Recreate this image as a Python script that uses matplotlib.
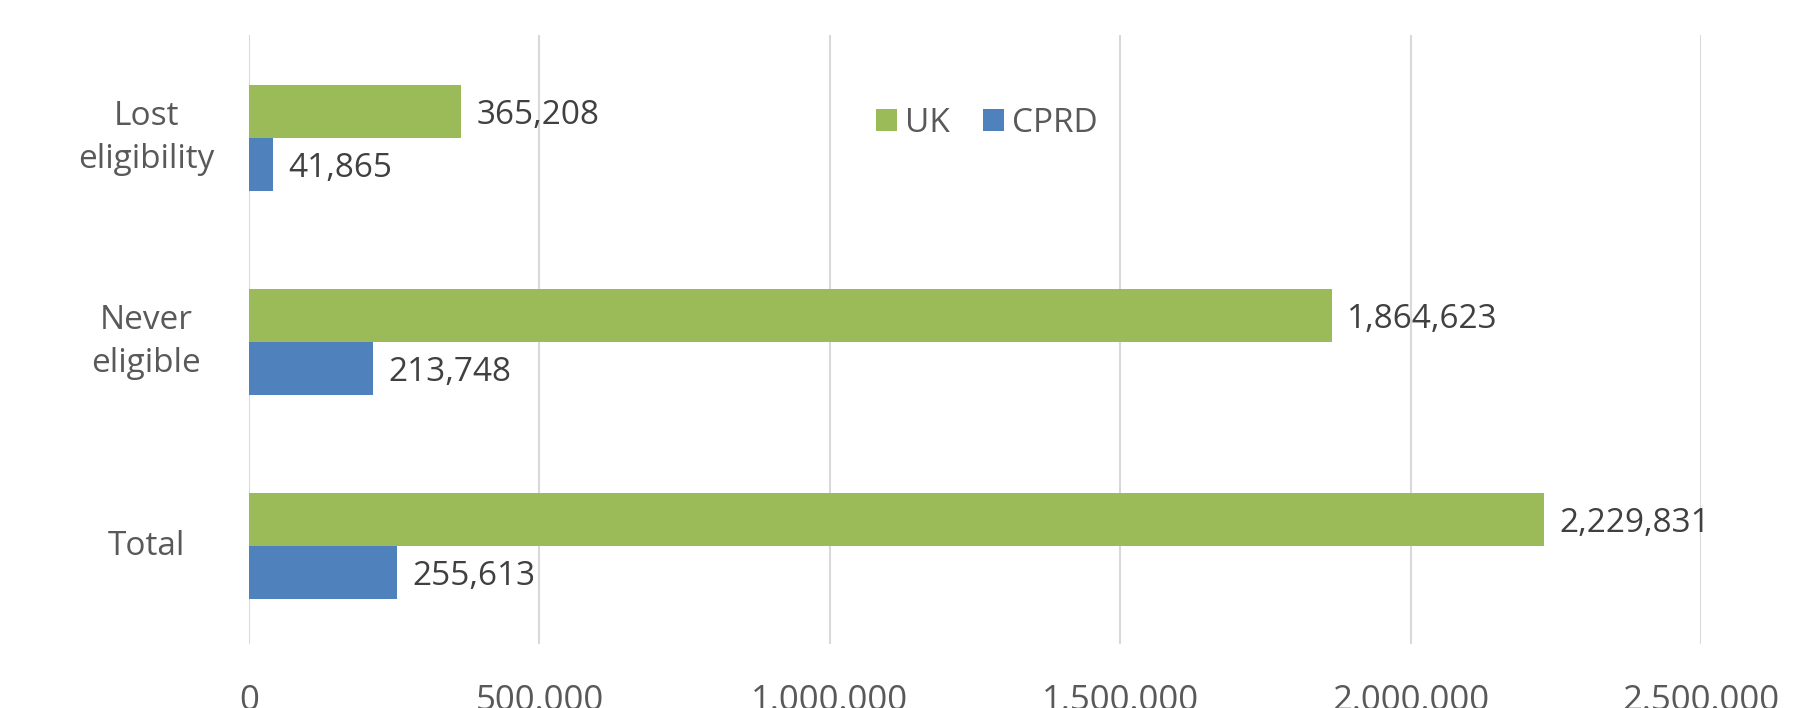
import matplotlib.pyplot as plt
import numpy as np

# categories from bottom to top
categories = ['Total', 'Never\neligible', 'Lost\neligibility']
uk = [2229831, 1864623, 365208]
cprd = [255613, 213748, 41865]
xticks = [0, 500000, 1000000, 1500000, 2000000, 2500000]
xtick_labels = ['0', '500.000', '1.000.000', '1.500.000', '2.000.000', '2.500.000']

plt.rcParams['font.family'] = ['Open Sans', 'DejaVu Sans']

fig = plt.figure(figsize=(18.19, 7.08), dpi=100)
ax = fig.add_axes([0.1369, 0.0904, 0.7983, 0.8602])

y = np.arange(len(categories))
h = 0.26
ax.barh(y + h / 2, uk, height=h, color='#9BBB59', label='UK')
ax.barh(y - h / 2, cprd, height=h, color='#4F81BD', label='CPRD')

# data labels
for yi, v in zip(y, uk):
    ax.annotate(f'{v:,}', (v, yi + h / 2), xytext=(11, -3), textcoords='offset points',
                va='center', ha='left', fontsize=24, color='#404040')
for yi, v in zip(y, cprd):
    ax.annotate(f'{v:,}', (v, yi - h / 2), xytext=(11, -3), textcoords='offset points',
                va='center', ha='left', fontsize=24, color='#404040')

ax.set_xlim(0, 2500000)
ax.set_ylim(-0.48, 2.505)
ax.set_yticks(y)
ax.set_yticklabels(categories, fontsize=24, color='#595959', ha='center',
                   va='center', linespacing=1.42)
ax.tick_params(axis='y', length=0, pad=74)
ax.set_xticks(xticks)
ax.set_xticklabels(xtick_labels, fontsize=25, color='#595959')
ax.tick_params(axis='x', length=0, pad=29)

ax.grid(axis='x', color='#D9D9D9', linewidth=1.5)
ax.set_axisbelow(True)
for s in ax.spines.values():
    s.set_visible(False)

ax.legend(loc='center', bbox_to_anchor=(0.5425, 0.826), bbox_transform=fig.transFigure,
          ncol=2, frameon=False, fontsize=24, handlelength=0.63, handleheight=0.63,
          handletextpad=0.25, columnspacing=1.0, labelcolor='#595959')

fig.savefig('out.png', dpi=100)
